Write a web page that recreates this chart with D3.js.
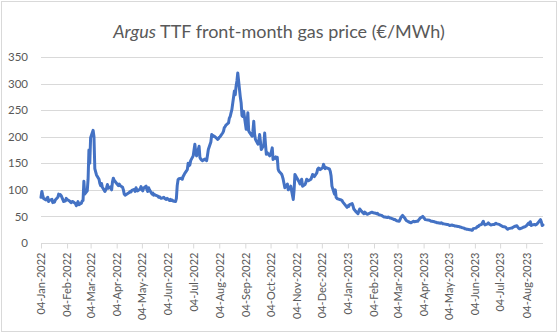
<!DOCTYPE html>
<html><head><meta charset="utf-8">
<script src="https://cdn.jsdelivr.net/npm/d3@7"></script>
<style>body{margin:0;background:#fff}svg{display:block}</style>
</head><body>
<svg id="chart" width="560" height="336"></svg>
<script>
const titleItalic = "Argus";
const titleRest = " TTF front-month gas price (€/MWh)";
const yTicks = [0, 50, 100, 150, 200, 250, 300, 350];
const xTickLabels = ["04-Jan-2022","04-Feb-2022","04-Mar-2022","04-Apr-2022","04-May-2022","04-Jun-2022","04-Jul-2022","04-Aug-2022","04-Sep-2022","04-Oct-2022","04-Nov-2022","04-Dec-2022","04-Jan-2023","04-Feb-2023","04-Mar-2023","04-Apr-2023","04-May-2023","04-Jun-2023","04-Jul-2023","04-Aug-2023"];
const xDomain = ["2022-01-04", "2023-08-24"];

const dates = [
"2022-01-04","2022-01-05","2022-01-06","2022-01-07","2022-01-10","2022-01-11","2022-01-12","2022-01-13","2022-01-14","2022-01-17","2022-01-18","2022-01-19","2022-01-20","2022-01-21","2022-01-24","2022-01-25","2022-01-26","2022-01-27","2022-01-28","2022-01-31",
"2022-02-01","2022-02-02","2022-02-03","2022-02-04","2022-02-07","2022-02-08","2022-02-09","2022-02-10","2022-02-11","2022-02-14","2022-02-15","2022-02-16","2022-02-17","2022-02-18","2022-02-21","2022-02-22","2022-02-23","2022-02-24","2022-02-25","2022-02-28",
"2022-03-01","2022-03-02","2022-03-03","2022-03-04","2022-03-07","2022-03-08","2022-03-09","2022-03-10","2022-03-11","2022-03-14","2022-03-15","2022-03-16","2022-03-17","2022-03-18","2022-03-21","2022-03-22","2022-03-23","2022-03-24","2022-03-25","2022-03-28","2022-03-29","2022-03-30","2022-03-31",
"2022-04-01","2022-04-04","2022-04-05","2022-04-06","2022-04-07","2022-04-08","2022-04-11","2022-04-12","2022-04-13","2022-04-14","2022-04-19","2022-04-20","2022-04-21","2022-04-22","2022-04-25","2022-04-26","2022-04-27","2022-04-28","2022-04-29",
"2022-05-02","2022-05-03","2022-05-04","2022-05-05","2022-05-06","2022-05-09","2022-05-10","2022-05-11","2022-05-12","2022-05-13","2022-05-16","2022-05-17","2022-05-18","2022-05-19","2022-05-20","2022-05-23","2022-05-24","2022-05-25","2022-05-26","2022-05-27","2022-05-30","2022-05-31",
"2022-06-01","2022-06-02","2022-06-03","2022-06-06","2022-06-07","2022-06-08","2022-06-09","2022-06-10","2022-06-13","2022-06-14","2022-06-15","2022-06-16","2022-06-17","2022-06-20","2022-06-21","2022-06-22","2022-06-23","2022-06-24","2022-06-27","2022-06-28","2022-06-29","2022-06-30",
"2022-07-01","2022-07-04","2022-07-05","2022-07-06","2022-07-07","2022-07-08","2022-07-11","2022-07-12","2022-07-13","2022-07-14","2022-07-15","2022-07-18","2022-07-19","2022-07-20","2022-07-21","2022-07-22","2022-07-25","2022-07-26","2022-07-27","2022-07-28","2022-07-29",
"2022-08-01","2022-08-02","2022-08-03","2022-08-04","2022-08-05","2022-08-08","2022-08-09","2022-08-10","2022-08-11","2022-08-12","2022-08-15","2022-08-16","2022-08-17","2022-08-18","2022-08-19","2022-08-22","2022-08-23","2022-08-24","2022-08-25","2022-08-26","2022-08-29","2022-08-30","2022-08-31",
"2022-09-01","2022-09-02","2022-09-05","2022-09-06","2022-09-07","2022-09-08","2022-09-09","2022-09-12","2022-09-13","2022-09-14","2022-09-15","2022-09-16","2022-09-19","2022-09-20","2022-09-21","2022-09-22","2022-09-23","2022-09-26","2022-09-27","2022-09-28","2022-09-29","2022-09-30",
"2022-10-03","2022-10-04","2022-10-05","2022-10-06","2022-10-07","2022-10-10","2022-10-11","2022-10-12","2022-10-13","2022-10-14","2022-10-17","2022-10-18","2022-10-19","2022-10-20","2022-10-21","2022-10-24","2022-10-25","2022-10-26","2022-10-27","2022-10-28","2022-10-31",
"2022-11-01","2022-11-02","2022-11-03","2022-11-04","2022-11-07","2022-11-08","2022-11-09","2022-11-10","2022-11-11","2022-11-14","2022-11-15","2022-11-16","2022-11-17","2022-11-18","2022-11-21","2022-11-22","2022-11-23","2022-11-24","2022-11-25","2022-11-28","2022-11-29","2022-11-30",
"2022-12-01","2022-12-02","2022-12-05","2022-12-06","2022-12-07","2022-12-08","2022-12-09","2022-12-12","2022-12-13","2022-12-14","2022-12-15","2022-12-16","2022-12-19","2022-12-20","2022-12-21","2022-12-22","2022-12-23","2022-12-27","2022-12-28","2022-12-29","2022-12-30",
"2023-01-03","2023-01-04","2023-01-05","2023-01-06","2023-01-09","2023-01-10","2023-01-11","2023-01-12","2023-01-13","2023-01-16","2023-01-17","2023-01-18","2023-01-19","2023-01-20","2023-01-23","2023-01-24","2023-01-25","2023-01-26","2023-01-27","2023-01-30","2023-01-31",
"2023-02-01","2023-02-02","2023-02-03","2023-02-06","2023-02-07","2023-02-08","2023-02-09","2023-02-10","2023-02-13","2023-02-14","2023-02-15","2023-02-16","2023-02-17","2023-02-20","2023-02-21","2023-02-22","2023-02-23","2023-02-24","2023-02-27","2023-02-28",
"2023-03-01","2023-03-02","2023-03-03","2023-03-06","2023-03-07","2023-03-08","2023-03-09","2023-03-10","2023-03-13","2023-03-14","2023-03-15","2023-03-16","2023-03-17","2023-03-20","2023-03-21","2023-03-22","2023-03-23","2023-03-24","2023-03-27","2023-03-28","2023-03-29","2023-03-30","2023-03-31",
"2023-04-03","2023-04-04","2023-04-05","2023-04-06","2023-04-11","2023-04-12","2023-04-13","2023-04-14","2023-04-17","2023-04-18","2023-04-19","2023-04-20","2023-04-21","2023-04-24","2023-04-25","2023-04-26","2023-04-27","2023-04-28",
"2023-05-02","2023-05-03","2023-05-04","2023-05-05","2023-05-08","2023-05-09","2023-05-10","2023-05-11","2023-05-12","2023-05-15","2023-05-16","2023-05-17","2023-05-18","2023-05-19","2023-05-22","2023-05-23","2023-05-24","2023-05-25","2023-05-26","2023-05-29","2023-05-30","2023-05-31",
"2023-06-01","2023-06-02","2023-06-05","2023-06-06","2023-06-07","2023-06-08","2023-06-09","2023-06-12","2023-06-13","2023-06-14","2023-06-15","2023-06-16","2023-06-19","2023-06-20","2023-06-21","2023-06-22","2023-06-23","2023-06-26","2023-06-27","2023-06-28","2023-06-29","2023-06-30",
"2023-07-03","2023-07-04","2023-07-05","2023-07-06","2023-07-07","2023-07-10","2023-07-11","2023-07-12","2023-07-13","2023-07-14","2023-07-17","2023-07-18","2023-07-19","2023-07-20","2023-07-21","2023-07-24","2023-07-25","2023-07-26","2023-07-27","2023-07-28","2023-07-31",
"2023-08-01","2023-08-02","2023-08-03","2023-08-04","2023-08-07","2023-08-08","2023-08-09","2023-08-10","2023-08-11","2023-08-14","2023-08-15","2023-08-16","2023-08-17","2023-08-18","2023-08-21","2023-08-22","2023-08-23","2023-08-24"
];
const prices = [
86,97,90,84,81,84,86,78,80,82,76,79,77,81,86,92,90,91,89,78,
80,79,84,82,79,77,76,78,78,74,70,74,78,72,75,79,80,116,92,98,
120,175,150,198,212,200,140,134,128,120,112,108,112,105,97,100,104,110,103,106,100,115,122,
118,112,110,108,111,108,105,100,92,90,95,97,96,99,101,97,104,100,98,
102,106,100,98,103,107,100,97,104,100,92,94,90,91,90,88,86,87,85,84,86,84,
83,82,84,80,82,80,81,79,78,84,108,119,121,122,120,125,128,131,138,150,145,147,
155,164,175,186,170,164,182,161,158,156,155,158,156,155,165,176,190,204,200,202,201,
197,195,196,199,200,207,210,217,219,222,226,235,238,245,251,286,279,295,305,320,275,264,240,
238,248,214,225,245,211,208,201,210,229,205,195,186,192,204,190,176,185,207,185,167,170,
164,168,172,179,157,162,158,161,139,135,130,126,120,112,104,111,100,104,102,107,82,
100,129,126,123,115,111,115,120,107,110,114,120,118,117,120,124,129,126,125,132,139,141,
140,138,142,148,144,140,142,140,139,135,126,107,92,100,86,84,83,81,80,77,75,
67,70,69,72,74,70,64,62,60,55,60,64,62,60,55,58,57,55,54,56,57,
58,58,57,56,55,56,54,53,52,51,50,49,49,48,49,48,47,47,45,44,
44,43,42,41,44,48,50,52,46,43,42,41,40,38,39,40,41,40,41,41,43,45,47,
50,48,46,44,43,42,41,41,40,39,39,38,38,37,38,37,36,36,
35,35,34,33,34,33,33,32,32,31,31,30,30,29,28,27,27,26,26,25,25,24,
24,27,28,29,31,31,33,35,38,41,36,34,36,38,36,35,34,35,35,36,37,36,
35,34,33,32,31,30,29,27,26,27,28,28,29,30,31,32.5,30,28,27,27,29,
30,30,31,32,37.5,35,40,33,34,35,34,35,36,38,44,40,33,34
];

const parse = d3.timeParse("%Y-%m-%d");
const fmt = d3.timeFormat("%d-%b-%Y");
const data = dates.map((d, i) => ({date: parse(d), value: prices[i]}));

const svg = d3.select("#chart");
const FONT = "Lato, 'Liberation Sans', sans-serif";
const TXT = "#595959";
const GRID = "#d9d9d9";

svg.append("rect").attr("x", 0).attr("y", 0).attr("width", 560).attr("height", 336).attr("fill", "#fff");
svg.append("rect").attr("x", 1.5).attr("y", 1.5).attr("width", 555).attr("height", 330)
  .attr("fill", "none").attr("stroke", GRID).attr("stroke-width", 1);

const x = d3.scaleTime().domain(xDomain.map(parse)).range([41, 543]);
const y = d3.scaleLinear().domain([0, 350]).range([243, 57]);

// gridlines
svg.append("g").selectAll("line").data(yTicks.filter(t => t > 0)).join("line")
  .attr("x1", 41).attr("x2", 543)
  .attr("y1", d => Math.round(y(d)) + 0.5).attr("y2", d => Math.round(y(d)) + 0.5)
  .attr("stroke", GRID).attr("stroke-width", 1);

// y axis labels
const yAxis = d3.axisLeft(y).tickValues(yTicks).tickSize(0).tickPadding(0);
const gy = svg.append("g").attr("transform", "translate(28,0)").call(yAxis);
gy.select(".domain").remove();
gy.selectAll("text").attr("fill", TXT).attr("font-family", FONT).attr("font-size", 11.5).attr("x", 0);

// x axis
const xTickDates = xTickLabels.map(s => d3.timeParse("%d-%b-%Y")(s));
const xAxis = d3.axisBottom(x).tickValues(xTickDates).tickFormat(fmt).tickSize(5).tickPadding(0);
const gx = svg.append("g").attr("transform", "translate(0,243.5)").call(xAxis);
gx.select(".domain").attr("stroke", GRID).attr("d", "M41,0H543");
gx.selectAll(".tick line").attr("stroke", GRID);
gx.selectAll(".tick text")
  .attr("fill", TXT).attr("font-family", FONT).attr("font-size", 11)
  .attr("text-anchor", "end").attr("dy", "0.35em")
  .attr("transform", "translate(0,9) rotate(-90)")
  .attr("x", 0).attr("y", 0);

// line
const line = d3.line().x(d => x(d.date)).y(d => y(d.value)).curve(d3.curveLinear);
svg.append("path").datum(data).attr("d", line)
  .attr("fill", "none").attr("stroke", "#4472C4").attr("stroke-width", 3)
  .attr("stroke-linejoin", "round").attr("stroke-linecap", "round");

// title
const t = svg.append("text").attr("x", 279).attr("y", 38).attr("text-anchor", "middle")
  .attr("font-family", FONT).attr("font-size", 18).attr("fill", TXT);
t.append("tspan").attr("font-style", "italic").text(titleItalic);
t.append("tspan").text(titleRest);
</script>
</body></html>
